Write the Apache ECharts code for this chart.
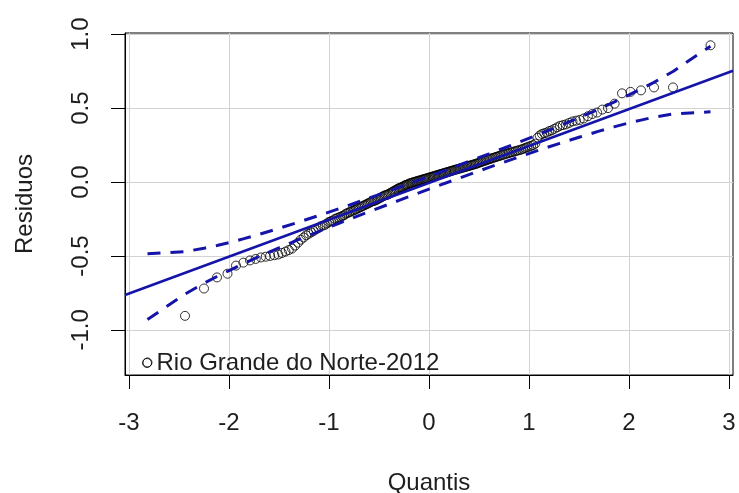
<!DOCTYPE html>
<html>
<head>
<meta charset="utf-8">
<script src="https://cdn.jsdelivr.net/npm/echarts@6/dist/echarts.min.js"></script>
<style>
  html, body { margin: 0; padding: 0; background: #ffffff; }
  #grafico { width: 739px; height: 493px; }
</style>
</head>
<body>
<div id="grafico"></div>
<script>
// Quantis teóricos (eixo x) e resíduos ordenados (eixo y) do gráfico QQ
const quantis = [
  -2.815, -2.44, -2.25, -2.12, -2.015, -1.93, -1.856, -1.79, -1.733, -1.681,
  -1.633, -1.589, -1.546, -1.507, -1.470, -1.435, -1.402, -1.370, -1.339, -1.310,
  -1.282, -1.254, -1.228, -1.203, -1.178, -1.153, -1.130, -1.107, -1.085, -1.063,
  -1.042, -1.021, -1.000, -0.980, -0.961, -0.942, -0.923, -0.904, -0.886, -0.868,
  -0.851, -0.833, -0.816, -0.799, -0.783, -0.765, -0.749, -0.733, -0.717, -0.702,
  -0.686, -0.671, -0.656, -0.640, -0.625, -0.611, -0.596, -0.581, -0.567, -0.553,
  -0.538, -0.524, -0.510, -0.496, -0.483, -0.469, -0.455, -0.442, -0.428, -0.415,
  -0.401, -0.388, -0.375, -0.362, -0.349, -0.336, -0.323, -0.310, -0.297, -0.285,
  -0.272, -0.259, -0.247, -0.234, -0.222, -0.209, -0.197, -0.184, -0.172, -0.160,
  -0.147, -0.135, -0.123, -0.110, -0.098, -0.086, -0.074, -0.061, -0.049, -0.037,
  -0.025, -0.012, 0.000, 0.012, 0.025, 0.037, 0.049, 0.061, 0.074, 0.086,
  0.098, 0.110, 0.123, 0.135, 0.147, 0.160, 0.172, 0.184, 0.197, 0.209,
  0.222, 0.234, 0.247, 0.259, 0.272, 0.285, 0.297, 0.310, 0.323, 0.336,
  0.349, 0.362, 0.375, 0.388, 0.401, 0.415, 0.428, 0.442, 0.455, 0.469,
  0.483, 0.496, 0.510, 0.524, 0.538, 0.553, 0.567, 0.581, 0.596, 0.611,
  0.625, 0.640, 0.656, 0.671, 0.686, 0.702, 0.717, 0.733, 0.749, 0.765,
  0.783, 0.799, 0.816, 0.833, 0.851, 0.868, 0.886, 0.904, 0.923, 0.942,
  0.961, 0.980, 1.000, 1.021, 1.042, 1.063, 1.085, 1.107, 1.130, 1.153,
  1.178, 1.203, 1.228, 1.254, 1.282, 1.310, 1.339, 1.370, 1.402, 1.435,
  1.470, 1.507, 1.546, 1.589, 1.633, 1.681, 1.733, 1.790, 1.856, 1.930,
  2.015, 2.120, 2.250, 2.440, 2.815
];
const residuos = [
  -1.22, -0.905, -0.72, -0.645, -0.62, -0.565, -0.545, -0.53, -0.52, -0.51,
  -0.505, -0.50, -0.495, -0.49, -0.48, -0.47, -0.46, -0.45, -0.43, -0.41,
  -0.39, -0.375, -0.36, -0.35, -0.34, -0.33, -0.32, -0.31, -0.30, -0.295,
  -0.29, -0.28, -0.27, -0.265, -0.26, -0.25, -0.245, -0.24, -0.235, -0.23,
  -0.225, -0.215, -0.21, -0.205, -0.20, -0.195, -0.19, -0.185, -0.18, -0.175,
  -0.17, -0.165, -0.16, -0.155, -0.15, -0.145, -0.14, -0.135, -0.13, -0.128,
  -0.125, -0.12, -0.115, -0.11, -0.105, -0.10, -0.095, -0.09, -0.088, -0.085,
  -0.08, -0.075, -0.07, -0.065, -0.06, -0.055, -0.05, -0.045, -0.04, -0.038,
  -0.035, -0.03, -0.025, -0.02, -0.018, -0.015, -0.01, -0.008, -0.005, -0.002,
  0.000, 0.003, 0.005, 0.008, 0.010, 0.012, 0.015, 0.018, 0.020, 0.022,
  0.025, 0.027, 0.030, 0.032, 0.035, 0.037, 0.040, 0.042, 0.045, 0.047,
  0.050, 0.052, 0.055, 0.057, 0.060, 0.062, 0.065, 0.067, 0.070, 0.072,
  0.075, 0.077, 0.080, 0.082, 0.085, 0.087, 0.090, 0.092, 0.095, 0.097,
  0.100, 0.102, 0.105, 0.107, 0.110, 0.112, 0.115, 0.118, 0.120, 0.123,
  0.126, 0.130, 0.133, 0.136, 0.140, 0.143, 0.146, 0.150, 0.153, 0.156,
  0.160, 0.163, 0.166, 0.170, 0.173, 0.176, 0.180, 0.183, 0.186, 0.190,
  0.193, 0.196, 0.200, 0.203, 0.206, 0.210, 0.213, 0.216, 0.220, 0.225,
  0.230, 0.235, 0.240, 0.245, 0.250, 0.260, 0.300, 0.315, 0.325, 0.330,
  0.335, 0.345, 0.350, 0.360, 0.370, 0.380, 0.385, 0.390, 0.400, 0.410,
  0.415, 0.420, 0.430, 0.445, 0.460, 0.470, 0.490, 0.500, 0.530, 0.600,
  0.610, 0.620, 0.640, 0.640, 0.925
];

// Reta de referência (quartis)
const retaX = [-3.04, 3.04];
const retaY = [-0.764, 0.753];

// Envelope de confiança (limites superior e inferior)
const envX = [
  -2.815, -2.44, -2.25, -2.12, -2.0, -1.85, -1.7, -1.5, -1.3, -1.1, -0.9, -0.6, -0.3, 0,
  0.3, 0.6, 0.9, 1.1, 1.3, 1.5, 1.7, 1.85, 2.0, 2.12, 2.25, 2.44, 2.815
];
const envSup = [
  -0.485, -0.470, -0.448, -0.429, -0.410, -0.383, -0.354, -0.313, -0.270, -0.226, -0.180, -0.109, -0.036, 0.038,
  0.114, 0.191, 0.269, 0.323, 0.378, 0.435, 0.494, 0.540, 0.589, 0.629, 0.674, 0.748, 0.919
];
const envInf = [
  -0.929, -0.758, -0.684, -0.639, -0.599, -0.550, -0.504, -0.445, -0.388, -0.333, -0.279, -0.200, -0.124, -0.048,
  0.026, 0.099, 0.170, 0.216, 0.260, 0.303, 0.344, 0.373, 0.400, 0.419, 0.439, 0.460, 0.475
];

const ticksX = [-3, -2, -1, 0, 1, 2, 3];
const ticksY = [-1.0, -0.5, 0.0, 0.5, 1.0];
const rotuloSerie = 'Rio Grande do Norte-2012';

const fonte = '"Liberation Sans", Arial, sans-serif';
const corTexto = '#1e1e1e';
const corLinha = '#1414a8';
const tamFonte = 24;

const pontos = quantis.map((q, i) => [q, residuos[i]]);
const reta = retaX.map((x, i) => [x, retaY[i]]);
const sup = envX.map((x, i) => [x, envSup[i]]);
const inf = envX.map((x, i) => [x, envInf[i]]);

const grafico = echarts.init(document.getElementById('grafico'), null, { renderer: 'canvas' });

grafico.setOption({
  animation: false,
  backgroundColor: '#ffffff',
  grid: {
    left: 125, right: 6, top: 33, bottom: 118,
    outerBoundsMode: 'none',
    containLabel: false,
    show: true, borderColor: '#000000', borderWidth: 1,
    backgroundColor: 'rgba(0,0,0,0)'
  },
  legend: {
    left: 137, top: 346,
    padding: 5,
    itemWidth: 9, itemHeight: 9,
    selectedMode: false,
    textStyle: { fontSize: tamFonte, color: corTexto, fontFamily: fonte },
    data: [{
      name: rotuloSerie,
      icon: 'circle',
      itemStyle: { color: 'rgba(0,0,0,0)', borderColor: '#000000', borderWidth: 1 }
    }]
  },
  xAxis: {
    type: 'value',
    min: -3.04, max: 3.04,
    name: 'Quantis',
    nameLocation: 'middle',
    nameGap: 96,
    nameTextStyle: { fontSize: tamFonte, color: corTexto, fontFamily: fonte },
    axisLine: { show: true, onZero: false, lineStyle: { color: '#000000', width: 1 } },
    axisTick: { show: true, inside: false, length: 14, customValues: ticksX,
                lineStyle: { color: '#000000', width: 1 } },
    axisLabel: { customValues: ticksX, fontSize: tamFonte, color: corTexto, fontFamily: fonte,
                 margin: 36, formatter: v => String(v) },
    splitLine: { show: true, lineStyle: { color: '#d3d3d3', width: 1 } }
  },
  yAxis: {
    type: 'value',
    min: -1.305, max: 1.008,
    name: 'Residuos',
    nameLocation: 'middle',
    nameRotate: 90,
    nameGap: 88,
    nameTextStyle: { fontSize: tamFonte, color: corTexto, fontFamily: fonte },
    axisLine: { show: true, onZero: false, lineStyle: { color: '#000000', width: 1 } },
    axisTick: { show: true, inside: false, length: 14, customValues: ticksY,
                lineStyle: { color: '#000000', width: 1 } },
    axisLabel: { customValues: ticksY, rotate: 90, fontSize: tamFonte, color: corTexto, fontFamily: fonte,
                 margin: 32, formatter: v => v.toFixed(1) },
    splitLine: { show: true, lineStyle: { color: '#d3d3d3', width: 1 } }
  },
  series: [
    {
      name: rotuloSerie,
      type: 'scatter',
      data: pontos,
      symbol: 'circle',
      symbolSize: 9,
      itemStyle: { color: 'rgba(0,0,0,0)', borderColor: '#000000', borderWidth: 1 },
      z: 2
    },
    {
      name: 'reta',
      type: 'line',
      data: reta,
      symbol: 'none',
      clip: true,
      lineStyle: { color: corLinha, width: 2.5 },
      z: 3
    },
    {
      name: 'envelope superior',
      type: 'line',
      data: sup,
      symbol: 'none',
      lineStyle: { color: corLinha, width: 3, type: [13, 10] },
      z: 3
    },
    {
      name: 'envelope inferior',
      type: 'line',
      data: inf,
      symbol: 'none',
      lineStyle: { color: corLinha, width: 3, type: [13, 10] },
      z: 3
    }
  ]
});
</script>
</body>
</html>
